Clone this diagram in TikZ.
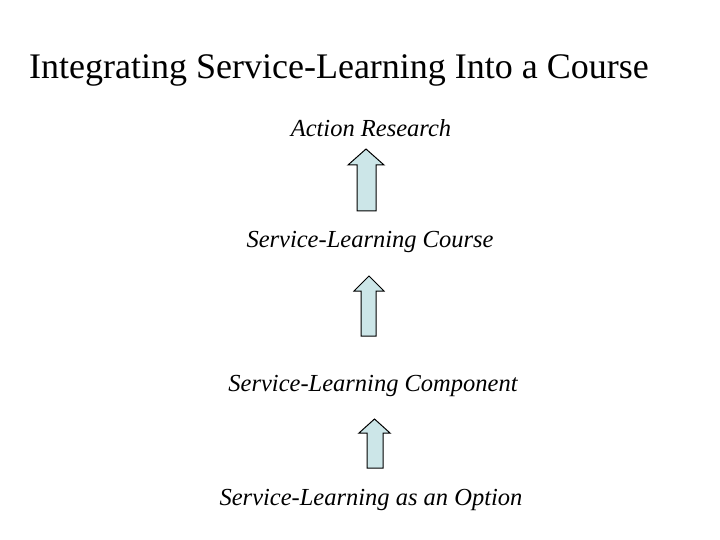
\documentclass[tikz,border=0pt]{standalone}
\usepackage{fontspec}
\setmainfont{Liberation Serif}
\definecolor{arrowfill}{RGB}{204,230,232}
\tikzset{
  lbl/.style={font=\fontsize{24.5}{29}\selectfont\itshape, inner sep=0pt, anchor=center},
  uparrow/.style={draw=black, fill=arrowfill, line width=1pt, line join=miter}
}
\begin{document}
\begin{tikzpicture}[x=1pt,y=-1pt]
\useasboundingbox (0,0) rectangle (720,540);
\node[font=\fontsize{36}{42}\selectfont, inner sep=0pt, anchor=center] (title) at (339,70) {Integrating Service-Learning Into a Course};
\node[lbl] (ar) at (371,128) {Action Research};
\node[lbl] (slc) at (370,242) {Service-Learning Course};
\node[lbl] (comp) at (373,386) {Service-Learning Component};
\node[lbl] (opt) at (371,500) {Service-Learning as an Option};
% arrows
\draw[uparrow] (357,211) -- (357,165) -- (348,165) -- (366,149) -- (384,165) -- (376,165) -- (376,211) -- cycle;
\draw[uparrow] (361,336) -- (361,291) -- (354,291) -- (369,276) -- (384,291) -- (376,291) -- (376,336) -- cycle;
\draw[uparrow] (367,468) -- (367,433) -- (359,433) -- (374.5,419) -- (390,433) -- (383,433) -- (383,468) -- cycle;
\end{tikzpicture}
\end{document}
